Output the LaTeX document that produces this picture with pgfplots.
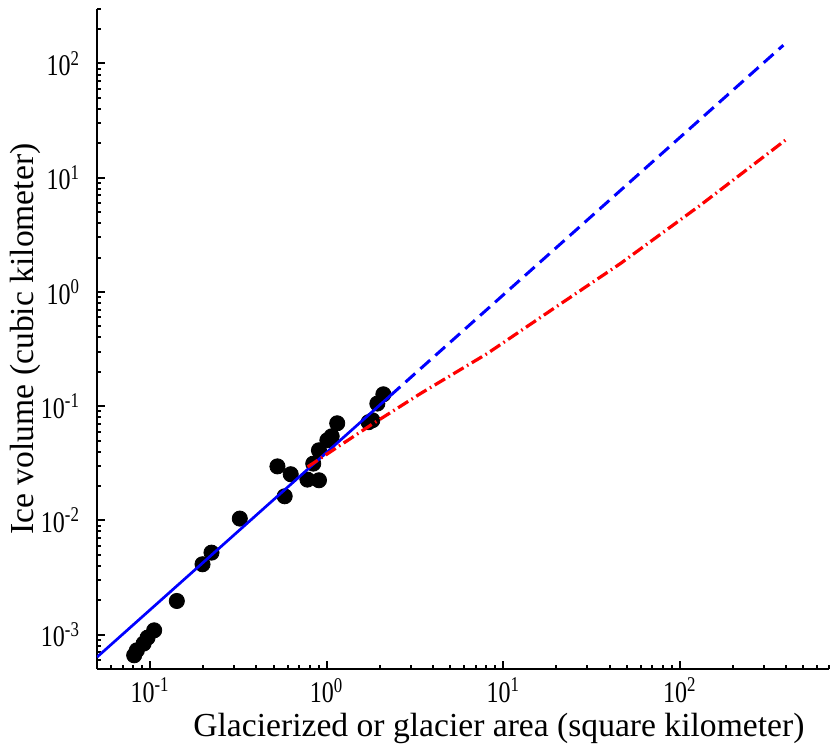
\documentclass[border=0pt]{standalone}
\usepackage{fontspec}
\setmainfont{Liberation Serif}
\newfontfamily\tickfont{Liberation Serif}[FakeStretch=0.8]
\usepackage{pgfplots}
\pgfplotsset{compat=1.18}
\begin{document}
\begin{tikzpicture}
\useasboundingbox (-48.5pt,-39.5pt) rectangle (366.5pt,334.5pt);
\begin{axis}[
  at={(0pt,0pt)}, anchor=south west,
  scale only axis, width=366pt, height=330pt,
  xmode=log, ymode=log,
  xmin=0.05, xmax=700, ymin=5e-4, ymax=300,
  axis x line*=bottom, axis y line*=left,
  axis line style={line width=1.4pt},
  tick align=inside,
  major tick length=4pt, minor tick length=2.2pt,
  every tick/.style={black, line width=1pt},
  xtick={0.1,1,10,100},
  xticklabels={10\textsuperscript{-1},10\textsuperscript{0},10\textsuperscript{1},10\textsuperscript{2}},
  minor xtick={0.06,0.07,0.08,0.09,0.2,0.3,0.4,0.5,0.6,0.7,0.8,0.9,2,3,4,5,6,7,8,9,20,30,40,50,60,70,80,90,200,300,400,500,600,700},
  ytick={0.001,0.01,0.1,1,10,100},
  yticklabels={10\textsuperscript{-3},10\textsuperscript{-2},10\textsuperscript{-1},10\textsuperscript{0},10\textsuperscript{1},10\textsuperscript{2}},
  minor ytick={0.0006,0.0007,0.0008,0.0009,0.002,0.003,0.004,0.005,0.006,0.007,0.008,0.009,0.02,0.03,0.04,0.05,0.06,0.07,0.08,0.09,0.2,0.3,0.4,0.5,0.6,0.7,0.8,0.9,2,3,4,5,6,7,8,9,20,30,40,50,60,70,80,90,200,300},
  tick label style={font=\tickfont\fontsize{15}{17}\selectfont},
  yticklabel style={xshift=-5pt},
  xticklabel style={yshift=-1pt},
  label style={font=\fontsize{16.8}{19}\selectfont},
  xlabel={Glacierized or glacier area (square kilometer)},
  ylabel={Ice volume (cubic kilometer)},
  xlabel style={at={(axis description cs:0.549,-0.103)}, anchor=base},
  ylabel style={at={(axis description cs:-0.0874,0.5)}, anchor=base},
  clip=true, clip marker paths=true,
]
\addplot[only marks, mark=*, mark size=3.8pt, black, mark options={fill=black}] coordinates {
(0.0812,6.59e-4) (0.0841,7.29e-4) (0.0918,8.34e-4) (0.0967,9.41e-4) (0.1054,1.09e-3)
(0.1416,1.97e-3) (0.198,4.13e-3) (0.2226,5.22e-3) (0.322,0.01037)
(0.526,0.0297) (0.578,0.01626) (0.6255,0.02535) (0.778,0.02276) (0.839,0.0314)
(0.904,0.02245) (0.904,0.0411) (1.009,0.0503) (1.067,0.0545) (1.147,0.0708)
(1.728,0.0724) (1.814,0.0753) (1.936,0.1054) (2.094,0.127)
};
\addplot[blue, line width=1.35pt] coordinates {(0.05,6.35e-4) (2.3,0.1242)};
\addplot[blue, line width=1.5pt, dash pattern=on 6.5pt off 3.5pt] coordinates {(2.3,0.1242) (386,144.6)};
\addplot[red, line width=1.6pt, dash pattern=on 6pt off 2pt on 0.8pt off 2pt] coordinates {
(0.78,0.0294) (1.77,0.068) (3.40,0.129) (8.12,0.289) (19.3,0.716) (46.1,1.773) (130.8,5.75) (396,21.3)
};
\end{axis}
\end{tikzpicture}
\end{document}
